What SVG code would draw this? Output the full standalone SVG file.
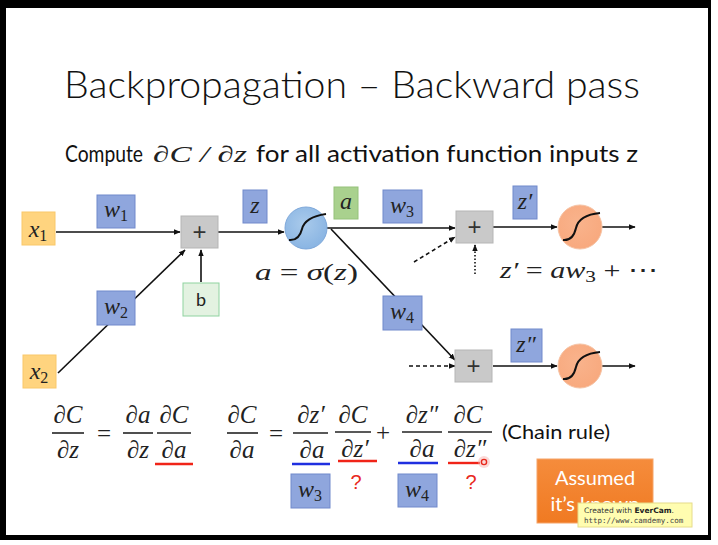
<svg xmlns="http://www.w3.org/2000/svg" width="718" height="545" viewBox="0 0 718 545">
<style>
.sans{font-family:Lato,"Open Sans","Liberation Sans",sans-serif;fill:#111}
.m{font-family:"Liberation Serif","DejaVu Serif",serif;font-style:italic;fill:#222}
.up{font-style:normal}
.ln{stroke:#111;stroke-width:1.6;fill:none}
.wbox{fill:#8FA6DD;stroke:#7189CB;stroke-width:1}
.xbox{fill:#FFD47F;stroke:#F9C86A;stroke-width:1}
.pbox{fill:#C9C9C9;stroke:#B5B5B5;stroke-width:1}
.bar{stroke:#222;stroke-width:1.6}
.red{stroke:#F02418;stroke-width:2.4}
.blu{stroke:#1F2FE0;stroke-width:2.4}
.q{font-family:"Liberation Sans",sans-serif;fill:#E8281C;font-size:20px}
.sig{stroke:#111;stroke-width:2;fill:none}
</style>
<defs>
<marker id="ah" viewBox="0 0 10 8" refX="9" refY="4" markerWidth="7" markerHeight="6" markerUnits="userSpaceOnUse" orient="auto">
<path d="M0,0 L10,4 L0,8 Z" fill="#111"/>
</marker>
<radialGradient id="bg" cx="0.45" cy="0.4" r="0.6">
<stop offset="0" stop-color="#A9CAEB"/><stop offset="1" stop-color="#8AB5E3"/>
</radialGradient>
<radialGradient id="og" cx="0.45" cy="0.4" r="0.6">
<stop offset="0" stop-color="#F9B38C"/><stop offset="1" stop-color="#F8A97E"/>
</radialGradient>
<linearGradient id="ab" x1="0" y1="0" x2="0" y2="1">
<stop offset="0" stop-color="#F58C3C"/><stop offset="1" stop-color="#F07A22"/>
</linearGradient>
</defs>
<rect x="0" y="0" width="718" height="545" fill="#fff"/>
<rect x="0" y="0" width="711" height="8" fill="#000"/>
<rect x="0" y="0" width="6" height="540" fill="#000"/>
<rect x="708" y="0" width="3" height="540" fill="#000"/>
<rect x="0" y="535" width="711" height="5" fill="#000"/>

<text class="sans" x="64" y="98" font-size="37" font-weight="300" textLength="576" lengthAdjust="spacingAndGlyphs">Backpropagation – Backward pass</text>
<text class="sans" x="65" y="162" font-size="23" textLength="78" lengthAdjust="spacingAndGlyphs">Compute</text>
<text class="m" x="153" y="162" font-size="23" textLength="94" lengthAdjust="spacingAndGlyphs">∂C / ∂z</text>
<text class="sans" x="256" y="162" font-size="23" textLength="382" lengthAdjust="spacingAndGlyphs">for all activation function inputs z</text>

<g id="connectors">
<line class="ln" x1="56" y1="232" x2="180" y2="232" marker-end="url(#ah)"/>
<line class="ln" x1="58" y1="373" x2="185" y2="250" marker-end="url(#ah)"/>
<line class="ln" x1="201" y1="282" x2="201" y2="250" marker-end="url(#ah)"/>
<line class="ln" x1="218" y1="232" x2="284" y2="232" marker-end="url(#ah)"/>
<line class="ln" x1="326" y1="228" x2="455" y2="228" marker-end="url(#ah)"/>
<line class="ln" x1="331" y1="229" x2="455" y2="360" marker-end="url(#ah)"/>
<line class="ln" x1="414" y1="262" x2="455" y2="237" stroke-dasharray="4 3" marker-end="url(#ah)"/>
<line class="ln" x1="475" y1="274" x2="475" y2="245" stroke-dasharray="1.5 2" marker-end="url(#ah)"/>
<line class="ln" x1="493" y1="227" x2="557" y2="227" marker-end="url(#ah)"/>
<line class="ln" x1="602" y1="227" x2="635" y2="227" marker-end="url(#ah)"/>
<line class="ln" x1="409" y1="366" x2="455" y2="366" stroke-dasharray="4 3" marker-end="url(#ah)"/>
<line class="ln" x1="493" y1="366" x2="557" y2="366" marker-end="url(#ah)"/>
<line class="ln" x1="602" y1="366" x2="635" y2="366" marker-end="url(#ah)"/>
</g>

<g id="x1"><rect class="xbox" x="22" y="212" width="33" height="33"/><text class="m" x="38" y="237" font-size="24" text-anchor="middle">x<tspan class="up" font-size="16" dy="4">1</tspan></text></g>
<g id="x2"><rect class="xbox" x="23" y="355" width="33" height="33"/><text class="m" x="39" y="379" font-size="24" text-anchor="middle">x<tspan class="up" font-size="16" dy="4">2</tspan></text></g>
<g id="w1"><rect class="wbox" x="97" y="195" width="38" height="33"/><text class="m" x="116" y="217" font-size="24" text-anchor="middle">w<tspan class="up" font-size="16" dy="4">1</tspan></text></g>
<g id="w2"><rect class="wbox" x="97" y="291" width="38" height="34"/><text class="m" x="116" y="314" font-size="24" text-anchor="middle">w<tspan class="up" font-size="16" dy="4">2</tspan></text></g>
<g id="plus1"><rect class="pbox" x="181" y="216" width="37" height="32"/><text x="199.5" y="240" font-family="Liberation Sans,sans-serif" font-size="24" text-anchor="middle" fill="#333">+</text></g>
<g id="b"><rect x="183" y="283" width="36" height="33" fill="#E3F2E1" stroke="#8FD3A0" stroke-width="1"/><text x="201" y="306" font-family="Lato,'Liberation Sans',sans-serif" font-size="18" text-anchor="middle" fill="#222">b</text></g>
<g id="z"><rect class="wbox" x="243" y="190" width="24" height="33"/><text class="m" x="255" y="213" font-size="24" text-anchor="middle">z</text></g>
<g id="sigma1"><circle cx="306" cy="228" r="21" fill="url(#bg)" stroke="#7EA8DA" stroke-width="1"/><path class="sig" d="M289 240 Q299 241 302 229 T326 214"/></g>
<text class="m" x="255" y="280" font-size="24" textLength="103" lengthAdjust="spacingAndGlyphs">a <tspan class="up">=</tspan> σ<tspan class="up">(</tspan>z<tspan class="up">)</tspan></text>
<g id="a"><rect x="334" y="187" width="24" height="32" fill="#A9D18E" stroke="#95C27A" stroke-width="1"/><text class="m" x="346" y="209" font-size="24" text-anchor="middle">a</text></g>
<g id="w3"><rect class="wbox" x="383" y="190" width="39" height="33"/><text class="m" x="402" y="213" font-size="24" text-anchor="middle">w<tspan class="up" font-size="16" dy="4">3</tspan></text></g>
<g id="plus2"><rect class="pbox" x="456" y="211" width="37" height="32"/><text x="474.5" y="235" font-family="Liberation Sans,sans-serif" font-size="24" text-anchor="middle" fill="#333">+</text></g>
<g id="zp"><rect class="wbox" x="513" y="186" width="24" height="33"/><text class="m" x="525" y="209" font-size="24" text-anchor="middle">z′</text></g>
<g id="sigma2"><circle cx="580" cy="227" r="22" fill="url(#og)" stroke="#F6C2A3" stroke-width="1"/><path class="sig" d="M563 240 Q573 241 576 228 T600 213"/></g>
<text class="m" x="500" y="278" font-size="24" textLength="158" lengthAdjust="spacingAndGlyphs">z′ <tspan class="up">=</tspan> aw<tspan class="up" font-size="17" dy="4">3</tspan><tspan class="up" dy="-4"> + ⋯</tspan></text>
<g id="w4"><rect class="wbox" x="383" y="296" width="39" height="34"/><text class="m" x="402" y="319" font-size="24" text-anchor="middle">w<tspan class="up" font-size="16" dy="4">4</tspan></text></g>
<g id="plus3"><rect class="pbox" x="455" y="350" width="37" height="32"/><text x="473.5" y="374" font-family="Liberation Sans,sans-serif" font-size="24" text-anchor="middle" fill="#333">+</text></g>
<g id="zpp"><rect class="wbox" x="511" y="329" width="31" height="33"/><text class="m" x="526" y="352" font-size="24" text-anchor="middle">z″</text></g>
<g id="sigma3"><circle cx="580" cy="366" r="22" fill="url(#og)" stroke="#F6C2A3" stroke-width="1"/><path class="sig" d="M563 379 Q573 380 576 367 T600 352"/></g>

<g id="equations">
<text class="m" x="68" y="423" font-size="25" text-anchor="middle">∂C</text>
<line class="bar" x1="52" y1="433" x2="84" y2="433"/>
<text class="m" x="68" y="458" font-size="25" text-anchor="middle">∂z</text>
<text x="104" y="442" font-family="Liberation Serif,serif" font-size="25" text-anchor="middle" fill="#222">=</text>
<text class="m" x="138" y="423" font-size="25" text-anchor="middle">∂a</text>
<line class="bar" x1="123" y1="433" x2="153" y2="433"/>
<text class="m" x="138" y="458" font-size="25" text-anchor="middle">∂z</text>
<text class="m" x="174" y="423" font-size="25" text-anchor="middle">∂C</text>
<line class="bar" x1="157" y1="433" x2="191" y2="433"/>
<text class="m" x="174" y="458" font-size="25" text-anchor="middle">∂a</text>
<line class="red" x1="155" y1="464" x2="193" y2="464"/>

<text class="m" x="242" y="423" font-size="25" text-anchor="middle">∂C</text>
<line class="bar" x1="227" y1="433" x2="258" y2="433"/>
<text class="m" x="242" y="458" font-size="25" text-anchor="middle">∂a</text>
<text x="276" y="442" font-family="Liberation Serif,serif" font-size="25" text-anchor="middle" fill="#222">=</text>
<text class="m" x="311" y="423" font-size="25" text-anchor="middle">∂z′</text>
<line class="bar" x1="293" y1="433" x2="328" y2="433"/>
<text class="m" x="312" y="458" font-size="25" text-anchor="middle">∂a</text>
<line class="blu" x1="292" y1="464" x2="330" y2="464"/>
<rect class="wbox" x="291" y="474" width="39" height="34"/>
<text class="m" x="310" y="497" font-size="24" text-anchor="middle">w<tspan class="up" font-size="16" dy="4">3</tspan></text>

<text class="m" x="353" y="423" font-size="25" text-anchor="middle">∂C</text>
<line class="bar" x1="335" y1="432" x2="371" y2="432"/>
<text class="m" x="355" y="457" font-size="25" text-anchor="middle">∂z′</text>
<line class="red" x1="338" y1="461" x2="377" y2="461"/>
<text class="q" x="356" y="489" text-anchor="middle">?</text>
<text x="383" y="441" font-family="Liberation Serif,serif" font-size="25" text-anchor="middle" fill="#222">+</text>

<text class="m" x="422" y="423" font-size="25" text-anchor="middle">∂z″</text>
<line class="bar" x1="402" y1="432" x2="442" y2="432"/>
<text class="m" x="422" y="457" font-size="25" text-anchor="middle">∂a</text>
<line class="blu" x1="398" y1="463" x2="438" y2="463"/>
<rect class="wbox" x="398" y="474" width="39" height="33"/>
<text class="m" x="417" y="497" font-size="24" text-anchor="middle">w<tspan class="up" font-size="16" dy="4">4</tspan></text>

<text class="m" x="468" y="423" font-size="25" text-anchor="middle">∂C</text>
<line class="bar" x1="448" y1="432" x2="492" y2="432"/>
<text class="m" x="470" y="457" font-size="25" text-anchor="middle">∂z″</text>
<line class="red" x1="448" y1="463" x2="480" y2="463"/>
<circle cx="484" cy="462" r="6" fill="#F7B3B0" opacity="0.5"/>
<circle cx="484" cy="462" r="2.6" fill="none" stroke="#E8281C" stroke-width="1.4"/>
<text class="q" x="471" y="489" text-anchor="middle">?</text>

<text class="sans" x="502" y="439" font-size="20" textLength="108" lengthAdjust="spacingAndGlyphs">(Chain rule)</text>
</g>

<g id="assumed">
<rect x="537" y="459" width="116" height="64" fill="url(#ab)" stroke="#F6A468" stroke-width="1"/>
<text x="595" y="485" font-family="Lato,'Liberation Sans',sans-serif" font-size="20" text-anchor="middle" fill="#fff">Assumed</text>
<text x="595" y="511" font-family="Lato,'Liberation Sans',sans-serif" font-size="20" text-anchor="middle" fill="#fff">it’s known</text>
</g>
<g id="watermark">
<rect x="578" y="503" width="114" height="24" fill="#FFFDB0" stroke="#E6DC8A" stroke-width="1"/>
<text x="584" y="513" font-family="'DejaVu Sans',sans-serif" font-size="7.5" fill="#333">Created with <tspan font-weight="bold" fill="#222">EverCam</tspan>.</text>
<text x="584" y="523" font-family="'DejaVu Sans Mono','Liberation Mono',monospace" font-size="7.5" fill="#444">http://www.camdemy.com</text>
</g>
</svg>
